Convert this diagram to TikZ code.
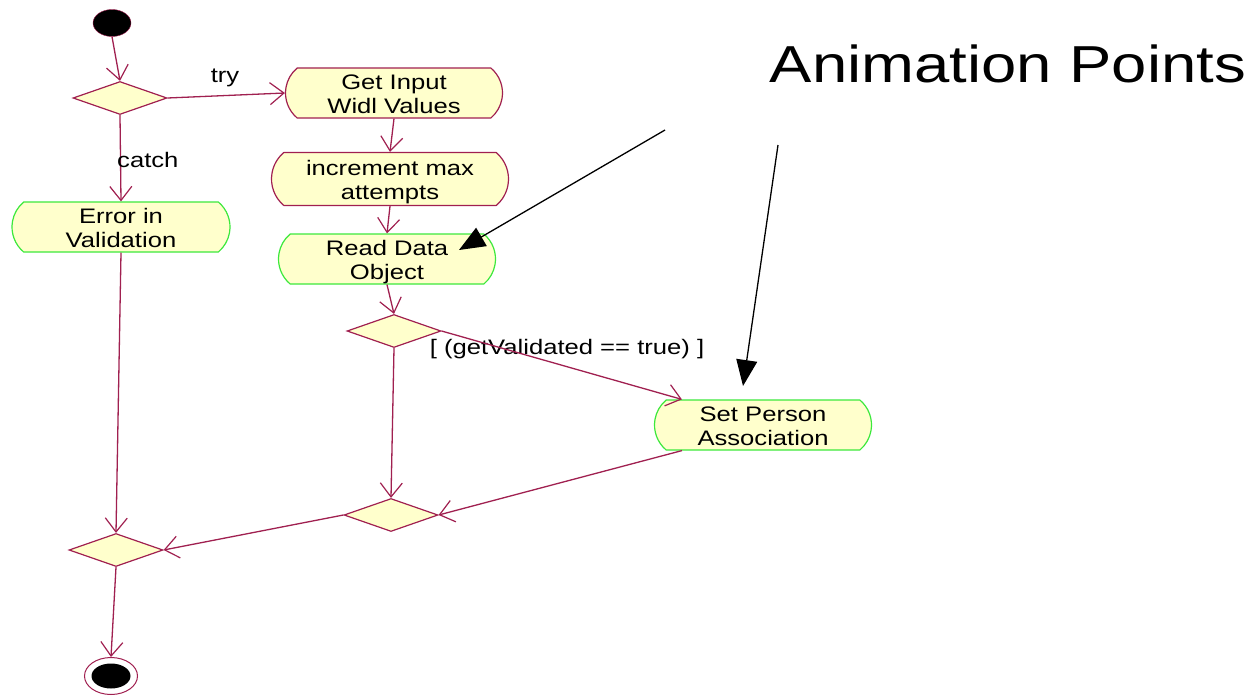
\documentclass[tikz,border=0pt]{standalone}
\usepackage{fontspec}
\setmainfont{Liberation Sans}
\usetikzlibrary{shapes.geometric,shapes.misc,arrows.meta}
\definecolor{flowline}{RGB}{160,32,80}
\definecolor{actfill}{RGB}{255,255,204}
\definecolor{actgreen}{RGB}{60,232,60}
% the diagram's typeface is set wide
\newcommand\wide[1]{\scalebox{1.22}[1]{#1}}
\newcommand\twolines[2]{\raisebox{-3.5pt}[\height][\depth]{\wide{\begin{tabular}{@{}c@{}}#1\\#2\end{tabular}}}}

\begin{document}
\begin{tikzpicture}[x=1pt,y=-1pt,
  every node/.style={font=\fontsize{21}{24}\selectfont},
  activity/.style={rounded rectangle, rounded rectangle arc length=100,
    fill=actfill, draw=flowline, line width=1.2pt,
    minimum width=217pt, minimum height=50pt, inner sep=0pt},
  greenact/.style={activity, draw=actgreen},
  decision/.style={diamond, fill=actfill, draw=flowline, line width=1.2pt,
    minimum width=94pt, minimum height=33pt, inner sep=0pt},
  flow/.style={draw=flowline, line width=1.3pt,
    -{Straight Barb[length=14pt,width=22pt,line width=1.2pt]}},
  pointer/.style={line width=1.3pt, -{Triangle[length=26pt,width=21pt]}},
  guard/.style={inner sep=0pt}]
\useasboundingbox (0,0) rectangle (1252,696);

% initial and final states
\node[ellipse, fill=black, draw=flowline, minimum width=38pt, minimum height=27pt, inner sep=0pt] (start) at (112,23) {};
\node[ellipse, draw=flowline, line width=1pt, minimum width=53pt, minimum height=37pt, inner sep=0pt] (stop) at (111,676) {};
\node[ellipse, fill=black, minimum width=39pt, minimum height=25pt, inner sep=0pt] (stopdot) at (111,676) {};

% decisions and merges
\node[decision] (d1) at (120,98) {};
\node[decision] (d2) at (394,331) {};
\node[decision] (d3) at (391,515) {};
\node[decision] (d4) at (116,550) {};

% activities
\node[activity] (gi) at (394,93) {\twolines{Get Input}{Widl Values}};
\node[activity, minimum width=237pt, minimum height=53pt] (inc) at (390,179) {\twolines{increment max}{attempts}};
\node[greenact] (rd) at (387,259) {\twolines{Read Data}{Object}};
\node[greenact, minimum width=218pt] (err) at (121,227) {\twolines{Error in}{Validation}};
\node[greenact] (sp) at (763,425) {\twolines{Set Person}{Association}};

% transitions
\draw[flow] (start.south) -- (d1.north);
\draw[flow] (d1.east) -- (gi.west);
\node[guard] (ltry) at (225,78) {\wide{try}};
\draw[flow] (d1.south) -- (err.north);
\node[guard, anchor=west] (lcatch) at (117,160) {\wide{catch}};
\draw[flow] (gi.south) -- (inc.north);
\draw[flow] (inc.south) -- (rd.north);
\draw[flow] (rd.south) -- (d2.north);
\node[guard] (lvalid) at (567,349) {\wide{[ (getValidated == true) ]}};
\draw[flow] (d2.east) -- ([xshift=16pt]sp.north west);
\draw[flow] (d2.south) -- (d3.north);
\draw[flow] ([xshift=16pt]sp.south west) -- (d3.east);
\draw[flow] (err.south) -- (d4.north);
\draw[flow] (d3.west) -- (d4.east);
\draw[flow] (d4.south) -- (stop.north);

% callout
\node[anchor=base] (title) at (1008,82) {\fontsize{52}{60}\selectfont\wide{Animation Points}};
\coordinate (p1) at (665,130);
\coordinate (p1tip) at (459,250);
\coordinate (p2) at (778,145);
\coordinate (p2tip) at (743,386);
\draw[pointer] (p1) -- (p1tip);
\draw[pointer] (p2) -- (p2tip);
\end{tikzpicture}
\end{document}
